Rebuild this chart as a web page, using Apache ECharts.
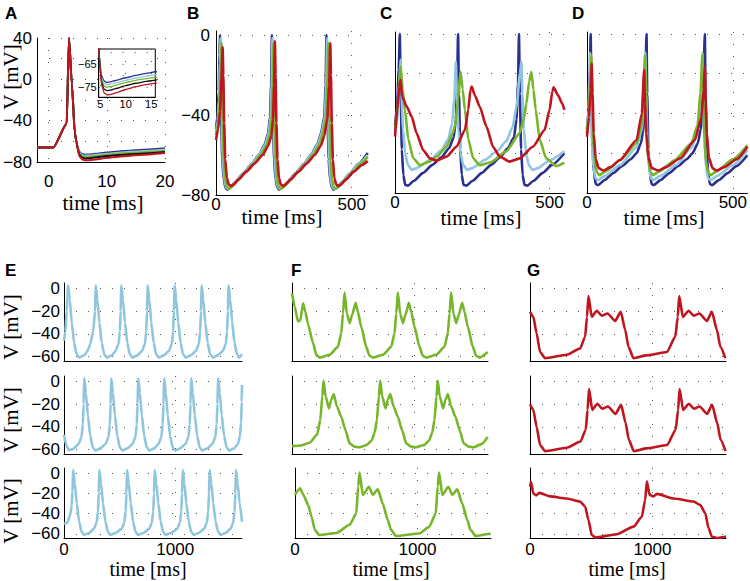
<!DOCTYPE html>
<html>
<head>
<meta charset="utf-8">
<script src="https://cdn.jsdelivr.net/npm/echarts@6/dist/echarts.min.js"></script>
<style>html,body{margin:0;padding:0;background:#fff}#c{width:750px;height:581px}</style>
</head>
<body>
<div id="c"></div>
<script>
// ---------------- DATA ----------------
// Panel A (time ms, V mV) – same traces are shown in the inset
const aBlue = [[-2,-66],[0.8,-66],[3.1,-43],[3.5,40],[4.0,-5],[4.5,-52],[4.8,-61],[5.0,-66],[5.3,-70],[5.7,-72.2],[6.2,-72.9],[7,-72.7],[8,-72.1],[10,-70.9],[12,-69.9],[14,-69],[15.8,-68.3],[20,-66.8]];
const aLightBlue = [[-2,-66],[0.8,-66],[3.1,-43],[3.5,40],[4.0,-5],[4.5,-52],[4.8,-61],[5.0,-66.5],[5.3,-71],[5.7,-73.2],[6.2,-73.9],[7,-73.7],[8,-73.1],[10,-72],[12,-71],[14,-70.2],[15.8,-69.6],[20,-68]];
const aGreen = [[-2,-66],[0.8,-66],[3.1,-43],[3.5,40],[4.0,-5],[4.5,-52],[4.8,-61],[5.0,-67],[5.3,-72],[5.7,-74.3],[6.2,-75],[7,-74.8],[8,-74.2],[10,-73],[12,-72],[14,-71.3],[15.8,-70.7],[20,-69.2]];
const aBlack = [[-2,-66],[0.8,-66],[3.1,-43],[3.5,40],[4.0,-5],[4.5,-52],[4.8,-61],[5.0,-67.5],[5.3,-73],[5.7,-75.7],[6.3,-76.5],[7,-76.3],[8,-75.6],[10,-74.3],[12,-73.3],[14,-72.5],[15.8,-71.9],[20,-70.3]];
const aRed = [[-2,-66],[0.8,-66],[3.1,-43],[3.5,40],[4.0,-5],[4.5,-52],[4.8,-61],[5.0,-68],[5.3,-74.5],[5.8,-77.6],[6.4,-78.4],[7.2,-78.1],[8,-77.5],[10,-76],[12,-74.8],[14,-73.9],[15.8,-73.2],[20,-71.3]];

// Panel B
const bBlue = [[0,-47],[6,-40],[10,-28],[13,-10],[14.7,0],[16.5,-18],[19,-42],[23,-62],[28,-72],[35,-76.3],[42,-77.3],[52,-76.5],[70,-73.8],[100,-69.3],[130,-64.7],[160,-59.5],[180,-54.5],[192,-49],[199,-41],[203,-25],[206,0],[208,-18],[210,-42],[214,-62],[219,-72],[226,-76.3],[233,-77.3],[243,-76.5],[262,-73.8],[292,-69.3],[322,-64.7],[352,-59.5],[374,-54.5],[387,-49],[399,-41],[404,-25],[407,0],[409,-18],[411,-42],[415,-62],[420,-72],[427,-76.3],[434,-77.3],[444,-76.5],[463,-73.8],[493,-69.3],[523,-64.7],[559,-59]];
const bLightBlue = [[0,-49],[6,-43],[11,-32],[14.5,-14],[16.7,-1.5],[18.5,-18],[21,-42],[25,-62],[30,-72],[37,-76],[44,-77],[54,-76.2],[72,-73.5],[102,-69],[132,-64.5],[162,-59.3],[182,-54.5],[194,-49],[201,-41],[205,-25],[208,-1.5],[210,-18],[212,-42],[216,-62],[221,-72],[228,-76],[235,-77],[245,-76.2],[264,-73.5],[294,-69],[324,-64.5],[354,-59.3],[376,-54.5],[389,-49],[401,-41],[406,-25],[409.5,-1.5],[411.5,-18],[413.5,-42],[417,-62],[422,-72],[429,-76],[436,-77],[446,-76.2],[465,-73.5],[495,-69],[525,-64.5],[559,-60]];
const bGreen = [[0,-50],[7,-45],[13,-35],[17,-18],[20.5,-4],[22.5,-20],[25,-44],[29,-63],[34,-72.5],[41,-76],[48,-76.8],[58,-76],[76,-73.3],[106,-69],[136,-64.7],[166,-59.7],[186,-55],[198,-49.5],[205,-41],[209,-25],[212,-4],[214,-20],[216.5,-44],[220.5,-63],[225.5,-72.5],[232,-76],[239,-76.8],[249,-76],[268,-73.3],[298,-69],[328,-64.7],[358,-59.7],[380,-55],[393,-49.5],[405,-41],[410,-25],[414,-4],[416,-20],[418.5,-44],[422.5,-63],[427.5,-72.5],[434,-76],[441,-76.8],[451,-76],[470,-73.3],[500,-69],[530,-64.7],[559,-61]];
const bRed = [[0,-52.5],[8,-47],[15,-38],[20,-22],[24.5,-6],[27,-20],[30,-44],[34,-62],[40,-71.5],[47,-74.8],[54,-75.5],[64,-74.8],[82,-72.3],[112,-68.3],[142,-64.3],[172,-60],[192,-55.5],[204,-50.5],[210,-42],[214,-25],[217,-3],[219.5,-20],[222.5,-44],[226.5,-62],[232,-71.5],[239,-74.8],[246,-75.5],[256,-74.8],[274,-72.3],[304,-68.3],[334,-64.3],[364,-60],[386,-55.5],[399,-50.5],[410,-42],[417,-25],[421,-4],[423.5,-20],[426.5,-44],[430.5,-62],[436,-71.5],[443,-74.8],[450,-75.5],[460,-74.8],[478,-72.3],[508,-68.3],[538,-65],[559,-63]];

// Panel C
const cBlue = [[0,-46],[7,-36],[12,-18],[15.5,0],[18.5,-30],[22,-58],[27,-71],[33,-76],[42,-76.3],[60,-74],[90,-70],[120,-66],[150,-62],[175,-57.5],[190,-52],[197,-43],[201,-25],[204,0],[207,-30],[211,-58],[216,-71],[222,-76],[231,-76.3],[250,-74],[280,-70],[310,-66],[340,-62],[365,-57.5],[385,-52],[393,-43],[398,-25],[401,0],[404,-30],[408,-58],[413,-71],[419,-76],[428,-76.3],[447,-74],[477,-70],[507,-66],[548,-60]];
const cLightBlue = [[0,-50],[8,-42],[14,-25],[18,-13],[21,-30],[26,-48],[33,-60],[42,-66],[54,-68.4],[70,-67.5],[113,-63.4],[150,-58.5],[172,-53],[185,-45],[192,-32],[197,-14],[200,-30],[205,-48],[212,-60],[221,-66],[233,-68.4],[250,-67.5],[290,-63.4],[330,-59],[360,-54],[380,-47],[394,-36],[404,-20],[409,-14],[412,-30],[417,-48],[424,-60],[433,-66],[445,-68.4],[462,-67.5],[500,-63.5],[548,-59]];
const cGreen = [[0,-48],[8,-38],[14,-24],[18,-16.4],[25,-28],[32,-38],[43,-53],[59,-62.5],[81,-66],[110,-64.3],[135,-61.7],[167,-56.7],[185,-50.5],[194,-46.6],[204,-33],[212,-19],[219,-28],[226,-38],[237,-53],[253,-62.5],[274,-66],[310,-64.5],[360,-59],[403,-50],[418,-42],[425,-35],[434,-24],[441,-19],[448,-28],[455,-38],[468,-53],[489,-62.5],[521,-66.5],[548,-64.7]];
const cRed = [[0,-51.6],[7.5,-38],[14,-26.5],[18,-23],[23,-31.5],[38,-36.5],[54,-41.6],[70,-50],[91,-58.4],[113,-62.6],[134,-63.7],[167,-61.7],[199,-56.7],[226,-48.3],[237,-38.2],[244,-28.2],[248,-26.5],[258,-30.7],[274,-36.5],[296,-46.6],[317,-56.7],[339,-61.7],[371,-64.2],[403,-62.6],[446,-56.7],[484,-48.3],[500,-38.2],[509,-29],[513,-26.8],[527,-30.7],[541,-34.9],[548,-38.2]];

// Panel D
const dBlue = [[0,-48],[6,-38],[10,-18],[12.6,0],[15,-30],[19,-58],[24,-70],[30,-75.5],[38,-76],[60,-73.5],[90,-70],[120,-66.5],[150,-63],[170,-60],[185,-55],[193,-48],[199,-32],[204,0],[206.5,-30],[210.5,-58],[215.5,-70],[221.5,-75.5],[229.5,-76],[252,-73.5],[282,-70],[312,-66.5],[342,-63],[362,-60],[380,-55],[390,-48],[398,-32],[404,0],[406.5,-30],[410.5,-58],[415.5,-70],[421.5,-75.5],[429.5,-76],[452,-73.5],[482,-70],[512,-66.5],[550,-61]];
const dLightBlue = [[0,-50],[5,-38],[8.5,-22],[10.3,-9.4],[13,-30],[17,-55],[22,-67],[29,-72.5],[37,-73.5],[60,-71.5],[113,-66],[170,-57],[188,-48],[195,-32],[200,-9.4],[203,-30],[207,-55],[212,-67],[219,-72.5],[227,-73.5],[250,-71.5],[305,-66],[360,-57],[380,-48],[390,-32],[396,-9.4],[399,-30],[403,-55],[408,-67],[415,-72.5],[423,-73.5],[446,-71.5],[500,-66],[550,-58.5]];
const dGreen = [[0,-50],[7,-38],[12,-22],[14.8,-10.6],[17.5,-30],[21.5,-53],[27,-64],[34,-69.5],[42,-71],[65,-69],[113,-63.5],[170,-55],[187,-46],[194,-30],[199,-10.6],[202,-30],[206,-53],[211,-64],[218,-69.5],[226,-71],[249,-69],[300,-63.5],[358,-55],[379,-46],[389,-30],[396,-10.6],[399,-30],[403,-53],[408,-64],[415,-69.5],[423,-71],[446,-69],[500,-63],[550,-56]];
const dRed = [[0,-51.7],[7,-42],[12,-28],[16,-14.7],[19,-30],[23,-50],[30,-63],[40,-67.5],[56,-68.7],[80,-67],[113,-63.4],[170,-53.3],[188,-40],[196,-18],[199,-35],[203,-50],[210,-62],[222,-67.5],[245,-68.7],[270,-67],[320,-62.5],[370,-53.3],[392,-42],[400,-28],[404,-16.4],[407,-35],[411,-50],[418,-62],[430,-67.5],[444,-68.7],[470,-67],[513,-63],[550,-56.7]];

// Panel E (light blue), three rows
const eRow1 = [[0,-46],[12,-38],[24,-20],[30,-8],[37,3],[52,-10],[70,-30],[91,-48],[113,-58],[137,-61],[182,-59],[212,-55],[237,-49],[262,-38],[279,-20],[285,3],[300,-10],[318,-30],[339,-48],[361,-58],[385,-61],[430,-59],[465,-55],[490,-49],[502,-38],[509,-20],[515,3],[530,-10],[548,-30],[569,-48],[591,-58],[615,-61],[660,-59],[702,-55],[727,-49],[739,-38],[746,-20],[752,3],[767,-10],[785,-30],[806,-48],[828,-58],[852,-61],[897,-59],[944,-55],[969,-49],[981,-38],[988,-20],[994,3],[1009,-10],[1027,-30],[1048,-48],[1070,-58],[1094,-61],[1139,-59],[1187,-55],[1212,-49],[1224,-38],[1231,-20],[1237,3],[1252,-10],[1270,-30],[1291,-48],[1313,-58],[1337,-61],[1382,-59],[1429,-55],[1454,-49],[1466,-38],[1473,-20],[1479,3],[1494,-10],[1512,-30],[1533,-48],[1555,-58],[1572,-61],[1600,-58]];
const eRow2 = [[0,-47],[20,-56],[42,-60.5],[82,-59.5],[132,-55],[157,-49],[169,-38],[176,-20],[182,3],[197,-10],[215,-30],[236,-48],[258,-58],[282,-61],[327,-59],[375,-55],[400,-49],[412,-38],[419,-20],[425,3],[440,-10],[458,-30],[479,-48],[501,-58],[525,-61],[570,-59],[617,-55],[642,-49],[654,-38],[661,-20],[667,3],[682,-10],[700,-30],[721,-48],[743,-58],[767,-61],[812,-59],[850,-55],[875,-49],[887,-38],[894,-20],[900,3],[915,-10],[933,-30],[954,-48],[976,-58],[1000,-61],[1045,-59],[1093,-55],[1118,-49],[1130,-38],[1137,-20],[1143,3],[1158,-10],[1176,-30],[1197,-48],[1219,-58],[1243,-61],[1288,-59],[1335,-55],[1360,-49],[1372,-38],[1379,-20],[1385,3],[1400,-10],[1418,-30],[1439,-48],[1461,-58],[1485,-61],[1530,-59],[1565,-55],[1582,-48],[1592,-36],[1597,-18],[1600,-3]];
const eRow3 = [[0,-50],[30,-49],[57,-41],[69,-32],[76,-18],[82,3],[97,-10],[115,-30],[136,-48],[158,-58],[182,-61],[227,-59],[268,-55],[293,-49],[305,-38],[312,-20],[318,3],[333,-10],[351,-30],[372,-48],[394,-58],[418,-61],[463,-59],[517,-55],[542,-49],[554,-38],[561,-20],[567,3],[582,-10],[600,-30],[621,-48],[643,-58],[667,-61],[712,-59],[765,-55],[790,-49],[802,-38],[809,-20],[815,3],[830,-10],[848,-30],[869,-48],[891,-58],[915,-61],[960,-59],[1017,-55],[1042,-49],[1054,-38],[1061,-20],[1067,3],[1082,-10],[1100,-30],[1121,-48],[1143,-58],[1167,-61],[1212,-59],[1259,-55],[1284,-49],[1296,-38],[1303,-20],[1309,3],[1324,-10],[1342,-30],[1363,-48],[1385,-58],[1409,-61],[1454,-59],[1496,-55],[1521,-49],[1533,-38],[1540,-20],[1546,3],[1561,-10],[1579,-30],[1600,-48]];

// Panel F (green), three rows
const fRow1 = [[0,-4],[22,-16],[49,-29],[68,-28],[90,-13],[109,-20.5],[130,-31],[171,-48],[198,-58.5],[225,-61],[307,-58.5],[375,-51.5],[402,-39.5],[416,-22],[429,-3.5],[448,-22],[470,-30.5],[492,-23],[519,-12.5],[538,-20.5],[565,-33.5],[606,-51.5],[633,-59.5],[660,-61],[742,-58.5],[810,-51.5],[837,-39.5],[851,-22],[864,-3.5],[883,-22],[905,-30.5],[927,-23],[954,-12.5],[973,-20.5],[1000,-33.5],[1041,-51.5],[1068,-59.5],[1095,-61],[1177,-58.5],[1245,-51.5],[1272,-39.5],[1286,-22],[1299,-3.5],[1318,-22],[1340,-30.5],[1362,-23],[1389,-12.5],[1408,-20.5],[1435,-33.5],[1476,-51.5],[1503,-59.5],[1530,-61],[1597,-56]];
const fRow2 = [[0,-57],[70,-56.5],[144,-54],[204,-47],[231,-34],[247,-13],[258,0.8],[274,-13],[302,-23.6],[321,-16],[340,-11],[367,-22],[402,-31],[437,-43],[470,-54.6],[511,-57.5],[551,-58],[610,-56],[650,-52],[675,-45],[693,-34],[709,-13],[720,0.8],[736,-13],[764,-23.6],[783,-16],[802,-11],[829,-22],[864,-31],[899,-43],[932,-54.6],[973,-57.5],[1013,-58],[1080,-56],[1120,-52],[1145,-45],[1163,-34],[1179,-13],[1190,0.8],[1206,-13],[1234,-23.6],[1253,-16],[1272,-11],[1299,-22],[1334,-31],[1369,-43],[1402,-54.6],[1443,-57.5],[1483,-58],[1550,-55],[1597,-49]];
const fRow3 = [[0,-21.5],[19,-18],[41,-15],[68,-21.5],[108,-31.5],[135,-43],[162,-56],[197,-61],[338,-59],[446,-51],[500,-40],[516,-13],[527,0.5],[554,-21.5],[603,-13.5],[635,-21.5],[676,-16],[716,-30],[757,-46],[784,-56],[825,-62],[1014,-59.5],[1095,-53],[1149,-40],[1165,-13],[1176,0.5],[1203,-21.5],[1252,-13.5],[1284,-21.5],[1325,-16],[1365,-30],[1406,-46],[1433,-56],[1473,-62],[1581,-60],[1597,-59.5]];

// Panel G (red), three rows
const gRow1 = [[0,-20.5],[27,-25],[54,-39.5],[82,-56],[123,-61.5],[300,-58.5],[409,-53],[450,-42.5],[465,-25],[477,-6.5],[504,-25],[545,-19.5],[586,-24],[632,-22],[695,-28.5],[741,-20.5],[777,-36.5],[804,-51.5],[845,-61.5],[950,-59],[1118,-56],[1186,-42.5],[1206,-25],[1218,-6.5],[1248,-25],[1295,-19.5],[1336,-24],[1382,-22],[1444,-28.5],[1485,-20.5],[1526,-36.5],[1554,-51.5],[1594,-61.5]];
const gRow2 = [[0,-20],[27,-25],[54,-40],[82,-56],[123,-61.5],[300,-58.5],[412,-53],[455,-42.5],[470,-25],[482,-6.5],[508,-25],[550,-19.5],[590,-24],[636,-22],[698,-28.5],[744,-20.5],[780,-36.5],[807,-51.5],[848,-61.5],[950,-59],[1120,-56],[1189,-42.5],[1209,-25],[1221,-6.5],[1250,-25],[1297,-19.5],[1338,-24],[1384,-22],[1446,-28.5],[1487,-20.5],[1528,-36.5],[1556,-51.5],[1596,-61.5]];
const gRow3 = [[0,-13.5],[8,-8.5],[27,-20],[50,-22],[76,-19.5],[164,-23],[300,-25],[409,-28],[450,-33],[477,-46],[504,-61],[532,-63.5],[709,-60.3],[845,-52.8],[913,-43],[940,-26.5],[954,-8],[976,-21.5],[1008,-23],[1036,-20.5],[1172,-25],[1336,-28],[1390,-31.5],[1431,-39.7],[1458,-54.5],[1485,-62.7],[1526,-64],[1600,-62.5]];

// Tick values
const aXTicks = [0, 10, 20];
const aYTicks = [-80, -60, -40, -20, 0, 20, 40];
const aYLabels = [-80, -40, 0, 40];
const insetXTicks = [5, 10, 15];
const insetYTicks = [-75, -70, -65, -60];
const insetYLabels = [-75, -65];
const topXTicks = [0, 500];
const topYTicks = [-80, -60, -40, -20, 0];
const topYLabels = [-80, -40, 0];
const botXTicks = [0, 1000];
const botYTicks = [-60, -40, -20, 0];

// ---------------- STYLE / LAYOUT ----------------
const COL = { blue: '#2b2f8e', light: '#8fc6de', green: '#77b52b', red: '#c0151f', black: '#111111' };
const SANS = 'Liberation Sans', SERIF = 'Liberation Serif';
const minus = v => (v < 0 ? '\u2212' + Math.abs(v) : String(v));
const DOT = { type: [1, 11], color: '#555', width: 1 };

const grids = [];
const xAxes = [];
const yAxes = [];
const series = [];

function addPanel(box, ax) {
  const i = grids.length;
  grids.push(Object.assign({ containLabel: false }, box));
  xAxes.push({
    gridIndex: i, type: 'value', min: ax.xmin, max: ax.xmax, z: ax.z || 0,
    axisLine: { show: true, onZero: false, lineStyle: { color: '#000', width: 1 } },
    axisTick: { show: false, customValues: ax.xTicks },
    axisLabel: ax.xLabels ? { show: true, customValues: ax.xLabels, fontFamily: SANS, fontSize: ax.fs || 17, color: '#000', margin: ax.xMargin, formatter: minus } : { show: false },
    splitLine: { show: true, lineStyle: DOT }
  });
  yAxes.push({
    gridIndex: i, type: 'value', min: ax.ymin, max: ax.ymax, z: ax.z || 0,
    axisLine: { show: true, onZero: false, lineStyle: { color: '#000', width: 1 } },
    axisTick: { show: false, customValues: ax.yTicks },
    axisLabel: ax.yLabels ? { show: true, customValues: ax.yLabels, fontFamily: SANS, fontSize: ax.fs || 17, color: '#000', margin: ax.yMargin, formatter: minus } : { show: false },
    splitLine: { show: true, lineStyle: DOT }
  });
  return i;
}
function addLine(i, data, color, width, z) {
  series.push({
    type: 'line', xAxisIndex: i, yAxisIndex: i, data: data, showSymbol: false, symbol: 'none',
    smooth: 0.2, smoothMonotone: 'x',
    lineStyle: { color: color, width: width }, itemStyle: { color: color }, clip: true, animation: false, z: z || 2
  });
}

// A
const gA = addPanel({ left: 37, top: 38, width: 128, height: 124 },
  { xmin: -2, xmax: 20, xTicks: aXTicks, xLabels: aXTicks, xMargin: 11, ymin: -80, ymax: 40, yTicks: aYTicks, yLabels: aYLabels, yMargin: 5 });
[[aBlue, COL.blue], [aLightBlue, COL.light], [aGreen, COL.green], [aBlack, COL.black], [aRed, COL.red]].forEach(p => addLine(gA, p[0], p[1], 2));
// inset
const gIn = addPanel({ left: 98.7, top: 49, width: 56.6, height: 48.3, show: true, backgroundColor: '#fff', borderColor: '#000', borderWidth: 1, z: 3 },
  { xmin: 4.7, xmax: 15.8, xTicks: insetXTicks, xLabels: insetXTicks, xMargin: 1, ymin: -79.4, ymax: -58.4, yTicks: insetYTicks, yLabels: insetYLabels, yMargin: 2, fs: 11, z: 4 });
[[aBlue, COL.blue], [aLightBlue, COL.light], [aGreen, COL.green], [aBlack, COL.black], [aRed, COL.red]].forEach(p => addLine(gIn, p[0], p[1], 1.3, 6));
// B
const gB = addPanel({ left: 216, top: 31, width: 152, height: 164 },
  { xmin: 0, xmax: 560, xTicks: topXTicks, xLabels: topXTicks, xMargin: 1, ymin: -80, ymax: 2, yTicks: topYTicks, yLabels: topYLabels, yMargin: 6 });
[[bBlue, COL.blue], [bLightBlue, COL.light], [bGreen, COL.green], [bRed, COL.red]].forEach(p => addLine(gB, p[0], p[1], 2.6));
// C
const gC = addPanel({ left: 395, top: 32, width: 170, height: 161 },
  { xmin: 0, xmax: 550, xTicks: topXTicks, xLabels: topXTicks, xMargin: 1, ymin: -80, ymax: 1, yTicks: topYTicks });
[[cBlue, COL.blue], [cLightBlue, COL.light], [cGreen, COL.green], [cRed, COL.red]].forEach(p => addLine(gC, p[0], p[1], 2.6));
// D
const gD = addPanel({ left: 587, top: 32, width: 161, height: 161 },
  { xmin: 0, xmax: 550, xTicks: topXTicks, xLabels: topXTicks, xMargin: 1, ymin: -80, ymax: 1, yTicks: topYTicks });
[[dBlue, COL.blue], [dLightBlue, COL.light], [dGreen, COL.green], [dRed, COL.red]].forEach(p => addLine(gD, p[0], p[1], 2.6));

// E, F, G rows
const rowBoxes = [{ top: 283, height: 78 }, { top: 376, height: 78 }, { top: 468, height: 70 }];
const colLefts = { E: [64, 64, 64], F: [292, 292, 295], G: [530, 530, 530] };
const colWidths = { E: 178, F: 196, G: 196 };
const bottomData = { E: [eRow1, eRow2, eRow3], F: [fRow1, fRow2, fRow3], G: [gRow1, gRow2, gRow3] };
const bottomColor = { E: COL.light, F: COL.green, G: COL.red };
['E', 'F', 'G'].forEach(k => {
  for (let r = 0; r < 3; r++) {
    const gi = addPanel({ left: colLefts[k][r], top: rowBoxes[r].top, width: colWidths[k], height: rowBoxes[r].height },
      { xmin: 0, xmax: 1600, xTicks: botXTicks, xLabels: r === 2 ? botXTicks : null, xMargin: 3,
        ymin: -64, ymax: 5, yTicks: botYTicks, yLabels: k === 'E' ? botYTicks : null, yMargin: 4 });
    addLine(gi, bottomData[k][r], bottomColor[k], 2.6);
  }
});

// text
const letters = [['A', 5, 5], ['B', 187, 5], ['C', 380, 5], ['D', 572, 5], ['E', 5, 262], ['F', 291, 262], ['G', 527, 262]];
const timeTitles = [[103, 203, 21], [282, 217, 21], [481, 218, 21], [664, 218, 21], [148, 569, 20], [391, 569, 20], [627, 569, 20]];
const vTitles = [[11, 77], [11, 327], [11, 420], [11, 511]];
const graphic = [];
letters.forEach(l => graphic.push({ type: 'text', x: l[1], y: l[2], style: { text: l[0], font: 'bold 17px "Liberation Sans"', fill: '#000', align: 'left', verticalAlign: 'top' } }));
timeTitles.forEach(t => graphic.push({ type: 'text', x: t[0], y: t[1], style: { text: 'time [ms]', font: t[2] + 'px "Liberation Serif"', fill: '#000', align: 'center', verticalAlign: 'middle' } }));
vTitles.forEach(t => graphic.push({ type: 'text', x: t[0], y: t[1], rotation: Math.PI / 2, style: { text: 'V [mV]', font: '21px "Liberation Serif"', fill: '#000', align: 'center', verticalAlign: 'middle' } }));

const chart = echarts.init(document.getElementById('c'), null, { renderer: 'svg', width: 750, height: 581 });
chart.setOption({
  backgroundColor: '#fff',
  animation: false,
  grid: grids,
  xAxis: xAxes,
  yAxis: yAxes,
  series: series,
  graphic: graphic
});
</script>
</body>
</html>
